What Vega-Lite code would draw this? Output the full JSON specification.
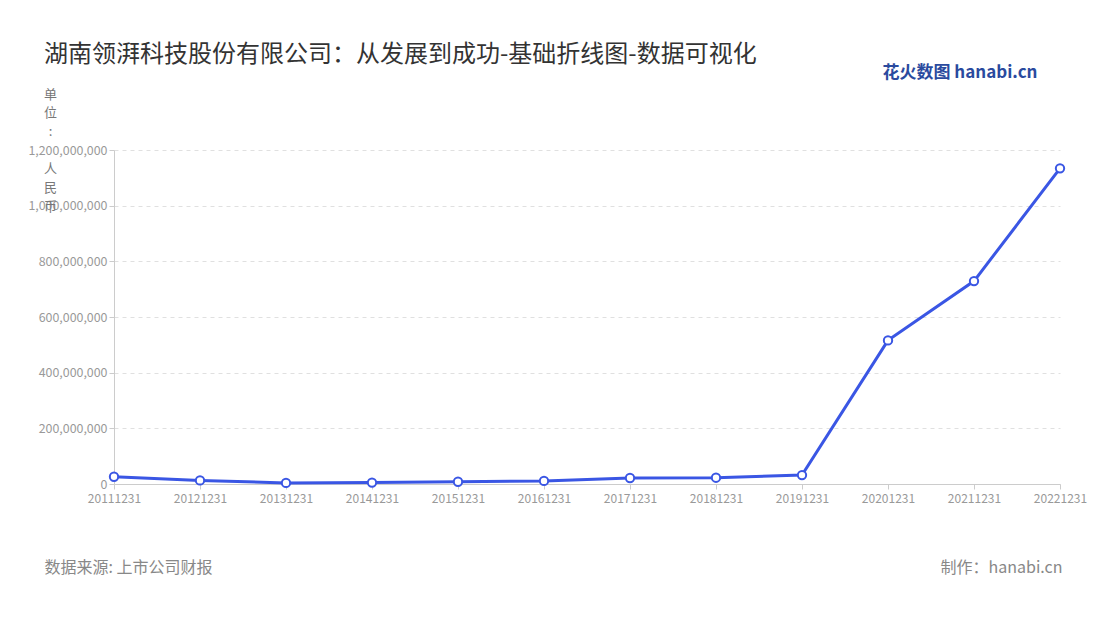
{
  "$schema": "https://vega.github.io/schema/vega-lite/v6.json",
  "description": "湖南领湃科技 - 基础折线图",
  "width": 946,
  "height": 334,
  "autosize": "none",
  "padding": {"left": 114, "top": 150, "right": 40, "bottom": 136},
  "background": "white",
  "title": {
    "text": "湖南领湃科技股份有限公司：从发展到成功-基础折线图-数据可视化",
    "anchor": "start",
    "frame": "group",
    "dx": -70,
    "dy": 24,
    "offset": 20,
    "fontSize": 24,
    "fontWeight": "normal",
    "color": "#333333",
    "font": "Noto Sans CJK SC"
  },
  "data": {
    "values": [
      {"date": "20111231", "value": 26000000},
      {"date": "20121231", "value": 13000000},
      {"date": "20131231", "value": 4000000},
      {"date": "20141231", "value": 5000000},
      {"date": "20151231", "value": 8000000},
      {"date": "20161231", "value": 11000000},
      {"date": "20171231", "value": 21500000},
      {"date": "20181231", "value": 22600000},
      {"date": "20191231", "value": 32000000},
      {"date": "20201231", "value": 516000000},
      {"date": "20211231", "value": 729000000},
      {"date": "20221231", "value": 1134000000}
    ]
  },
  "encoding": {
    "x": {
      "field": "date",
      "type": "ordinal",
      "scale": {"type": "point", "padding": 0}
    },
    "y": {
      "field": "value",
      "type": "quantitative",
      "scale": {"domain": [0, 1200000000], "nice": false}
    }
  },
  "layer": [
    {
      "mark": {"type": "line", "color": "#3a56e4", "strokeWidth": 3},
      "encoding": {
        "x": {
          "field": "date",
          "type": "ordinal",
          "axis": {
            "title": "数据来源: 上市公司财报",
            "titleX": -70,
            "titleY": 83,
            "titleAlign": "left",
            "titleBaseline": "middle",
            "titleFontSize": 16,
            "titleColor": "#888888",
            "titleFontWeight": "normal",
            "labelAngle": 0,
            "labelFontSize": 12,
            "labelColor": "#999999",
            "labelPadding": 4,
            "tickSize": 5,
            "tickColor": "#cccccc",
            "domainColor": "#cccccc",
            "grid": false
          }
        },
        "y": {
          "field": "value",
          "type": "quantitative",
          "axis": {
            "title": ["单", "位", ":", "\u2800", "人", "民", "币"],
            "titleAngle": 0,
            "titleX": -64,
            "titleY": -62,
            "titleAlign": "center",
            "titleBaseline": "top",
            "titleLineHeight": 18.7,
            "titleFontSize": 13,
            "titleColor": "#777777",
            "titleFontWeight": "normal",
            "values": [0, 200000000, 400000000, 600000000, 800000000, 1000000000, 1200000000],
            "format": ",d",
            "labelFontSize": 12.4,
            "labelColor": "#999999",
            "tickSize": 5,
            "tickColor": "#cccccc",
            "domainColor": "#cccccc",
            "grid": true,
            "gridColor": "#e0e0e0",
            "gridDash": [4, 4]
          }
        }
      }
    },
    {
      "mark": {"type": "point", "filled": true, "fill": "white", "stroke": "#3a56e4", "strokeWidth": 2, "size": 70, "opacity": 1},
      "encoding": {
        "x": {
          "field": "date",
          "type": "ordinal",
          "axis": {
            "orient": "top",
            "labels": false,
            "ticks": false,
            "domain": false,
            "grid": false,
            "title": "花火数图 hanabi.cn",
            "titleX": 923,
            "titleY": -78,
            "titleAlign": "right",
            "titleBaseline": "middle",
            "titleFontSize": 17,
            "titleFontWeight": "bold",
            "titleColor": "#2a4a9e"
          }
        },
        "y": {
          "field": "value",
          "type": "quantitative",
          "axis": {
            "orient": "right",
            "labels": false,
            "ticks": false,
            "domain": false,
            "grid": false,
            "title": "制作：hanabi.cn",
            "titleAngle": 0,
            "titleX": 2,
            "titleY": 417,
            "titleAlign": "right",
            "titleBaseline": "middle",
            "titleFontSize": 16,
            "titleColor": "#888888",
            "titleFontWeight": "normal"
          }
        },
        "tooltip": [
          {"field": "date", "title": "日期"},
          {"field": "value", "title": "数值", "format": ","}
        ]
      }
    }
  ],
  "resolve": {"axis": {"x": "independent", "y": "independent"}},
  "config": {
    "font": "Noto Sans CJK SC",
    "view": {"stroke": null}
  }
}
